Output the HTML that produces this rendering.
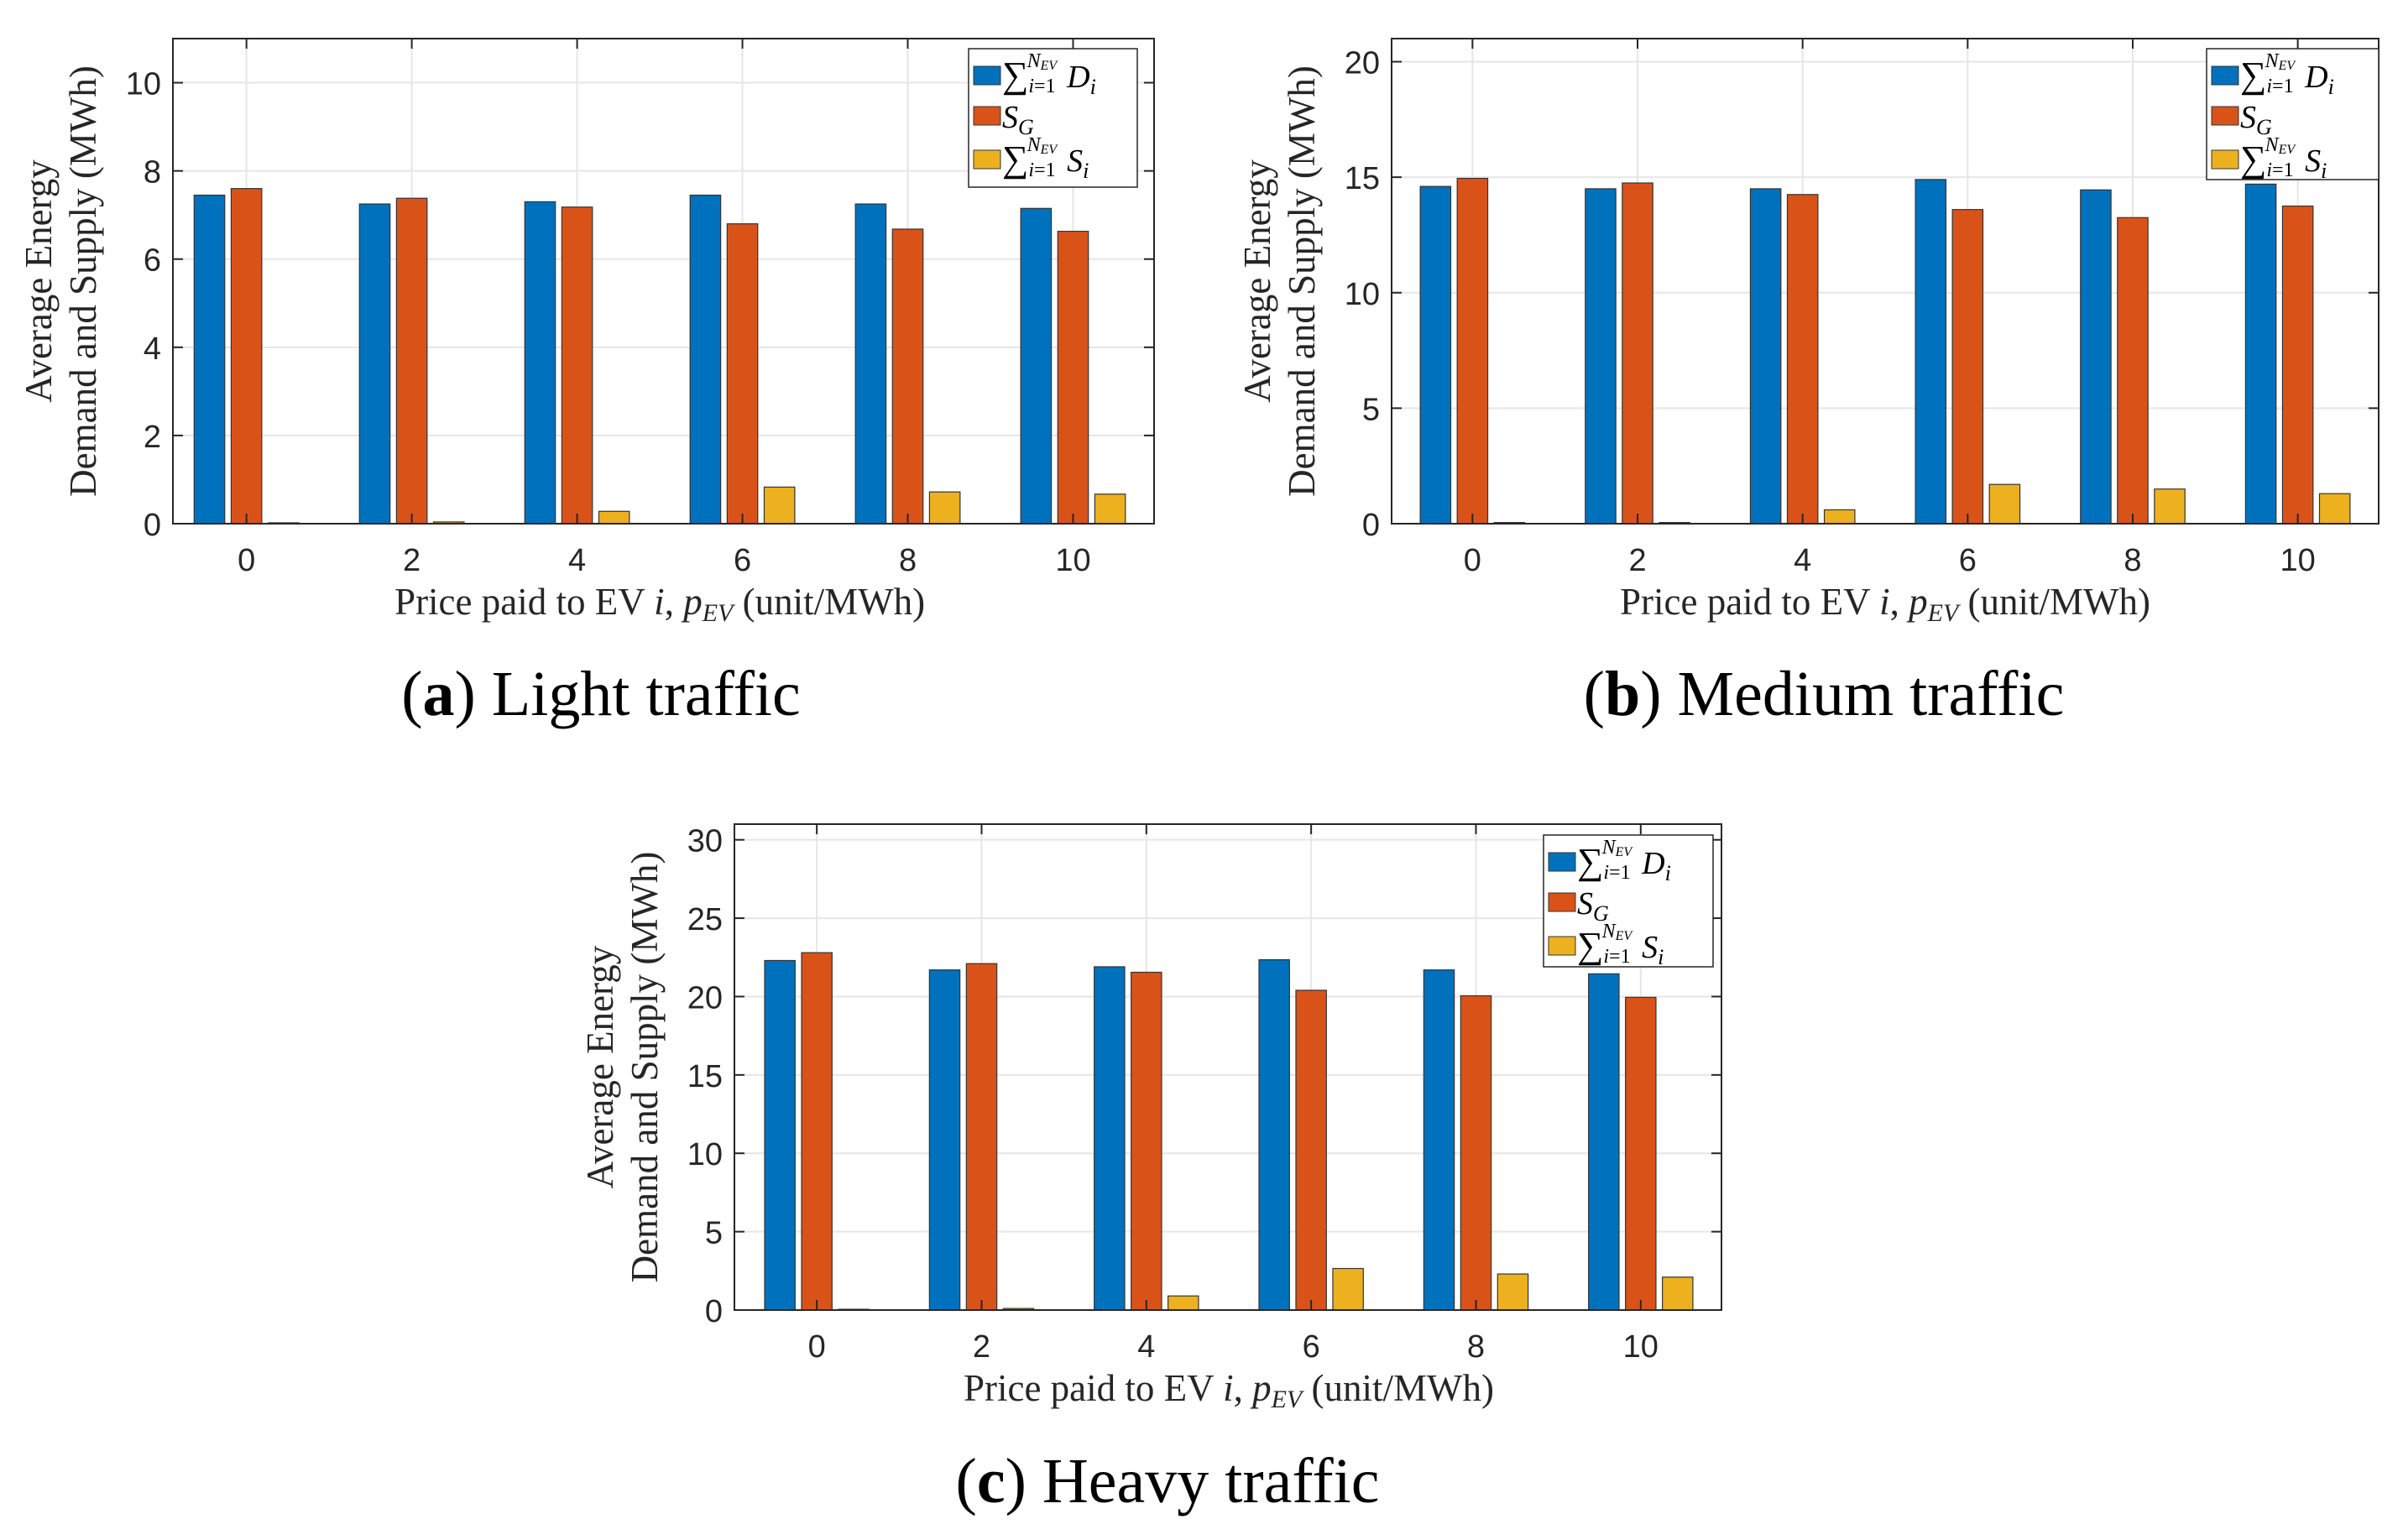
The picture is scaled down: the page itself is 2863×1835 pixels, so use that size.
<!DOCTYPE html>
<html><head><meta charset="utf-8"><style>
body{margin:0;background:#fff;}
svg{display:block;}
.tick{font-family:"Liberation Sans",sans-serif;font-size:38px;fill:#262626;}
.lab{font-family:"Liberation Serif",serif;font-size:45px;fill:#262626;}
.cap{font-family:"Liberation Serif",serif;font-size:76px;fill:#000;}
.leg{font-family:"Liberation Serif",serif;font-size:38px;font-style:italic;fill:#000;}
</style></head><body>
<svg id="chart" width="2863" height="1835" viewBox="0 0 2863 1835" xmlns="http://www.w3.org/2000/svg"></svg>
<script>
const categories = [0, 2, 4, 6, 8, 10];
const lightDemand = [7.45, 7.25, 7.3, 7.45, 7.25, 7.15];
const lightGrid = [7.6, 7.38, 7.18, 6.8, 6.68, 6.63];
const lightEV = [0.02, 0.04, 0.28, 0.83, 0.72, 0.67];
const lightTicks = [0, 2, 4, 6, 8, 10];
const mediumDemand = [14.6, 14.5, 14.5, 14.9, 14.45, 14.7];
const mediumGrid = [14.95, 14.75, 14.25, 13.6, 13.25, 13.75];
const mediumEV = [0.05, 0.05, 0.6, 1.7, 1.5, 1.3];
const mediumTicks = [0, 5, 10, 15, 20];
const heavyDemand = [22.3, 21.7, 21.9, 22.35, 21.7, 21.45];
const heavyGrid = [22.8, 22.1, 21.55, 20.4, 20.05, 19.95];
const heavyEV = [0.05, 0.1, 0.9, 2.65, 2.3, 2.1];
const heavyTicks = [0, 5, 10, 15, 20, 25, 30];

const NS = "http://www.w3.org/2000/svg";
const svg = document.getElementById('chart');
function el(tag, attrs, parent, text) {
  const e = document.createElementNS(NS, tag);
  for (const k in attrs) e.setAttribute(k, attrs[k]);
  if (text !== undefined) e.textContent = text;
  (parent || svg).appendChild(e);
  return e;
}
const colors = ['#0072BD', '#D95319', '#EDB120'];

function panel(p) {
  const g = el('g', {});
  
  
  const x = v => p.left + (v - p.xmin) / (p.xmax - p.xmin) * (p.right - p.left);
  const y = v => p.bottom - v / p.ymax * (p.bottom - p.top);
  el('rect', {x: p.left, y: p.top, width: p.right - p.left, height: p.bottom - p.top, fill: '#fff'}, g);
  p.ticks.forEach(t => {
    const gl = el('line', {x1: p.left, x2: p.right, y1: y(t), y2: y(t), stroke: '#e6e6e6', 'stroke-width': 2}, g);
    
    
  });
  categories.forEach(c => {
    el('line', {x1: x(c), x2: x(c), y1: p.top, y2: p.bottom, stroke: '#e6e6e6', 'stroke-width': 2}, g);
  });
  const series = [p.d, p.g, p.s];
  const names = ['bar-demand', 'bar-grid-supply', 'bar-ev-supply'];
  const off = 0.448, bw = 0.37;
  series.forEach((arr, si) => {
    arr.forEach((v, i) => {
      const cx = categories[i] + (si - 1) * off;
      const b = el('rect', {x: x(cx - bw / 2), y: y(v), width: x(cx + bw / 2) - x(cx - bw / 2), height: y(0) - y(v), fill: colors[si], stroke: '#333', 'stroke-width': 1.2}, g);
      
      
    });
  });
  el('rect', {x: p.left, y: p.top, width: p.right - p.left, height: p.bottom - p.top, fill: 'none', stroke: '#262626', 'stroke-width': 2}, g);
  p.ticks.forEach(t => {
    el('line', {x1: p.left, x2: p.left + 12, y1: y(t), y2: y(t), stroke: '#262626', 'stroke-width': 2}, g);
    el('line', {x1: p.right, x2: p.right - 12, y1: y(t), y2: y(t), stroke: '#262626', 'stroke-width': 2}, g);
    const tl = el('text', {x: p.left - 14, y: y(t) + 14, 'text-anchor': 'end', class: 'tick'}, g, t);
    
    
  });
  categories.forEach(c => {
    el('line', {x1: x(c), x2: x(c), y1: p.bottom, y2: p.bottom - 12, stroke: '#262626', 'stroke-width': 2}, g);
    el('line', {x1: x(c), x2: x(c), y1: p.top, y2: p.top + 12, stroke: '#262626', 'stroke-width': 2}, g);
    const tl = el('text', {x: x(c), y: p.bottom + 56, 'text-anchor': 'middle', class: 'tick'}, g, c);
    
    
  });
  const xl = el('text', {x: (x(0) + x(10)) / 2, y: p.bottom + 108, 'text-anchor': 'middle', class: 'lab'}, g);
  
  
  xl.innerHTML = 'Price paid to EV <tspan font-style="italic">i</tspan>, <tspan font-style="italic">p</tspan><tspan font-style="italic" font-size="30" dy="8">EV</tspan><tspan dy="-8"> (unit/MWh)</tspan>';
  const cy = (p.top + p.bottom) / 2;
  const yl = el('text', {transform: `translate(${p.left - 145},${cy}) rotate(-90)`, 'text-anchor': 'middle', class: 'lab'}, g, 'Average Energy');
  
  
  const yl2 = el('text', {transform: `translate(${p.left - 92},${cy}) rotate(-90)`, 'text-anchor': 'middle', class: 'lab'}, g, 'Demand and Supply (MWh)');
  
  
  const L = p.leg;
  const lg = el('g', {}, g);
  
  
  el('rect', {x: L.x, y: L.y, width: L.w, height: L.h, fill: '#fff', stroke: '#262626', 'stroke-width': 1.5}, lg);
  const rows = [L.y + 34, L.y + 82, L.y + 134];
  rows.forEach((ry, i) => {
    const sw = el('rect', {x: L.x + 6, y: ry - 13, width: 32, height: 22, fill: colors[i], stroke: '#333', 'stroke-width': 1}, lg);
    
    
    const t = el('text', {x: L.x + 40, y: ry + 12, class: 'leg'}, lg);
    
    
    if (i === 1) t.innerHTML = 'S<tspan font-size="26" dy="8">G</tspan>';
    else t.innerHTML = '<tspan font-style="normal" font-size="44">∑</tspan><tspan font-size="24" dy="6">i</tspan><tspan font-size="24" font-style="normal">=1</tspan><tspan font-size="24" dx="-34" dy="-30">N</tspan><tspan font-size="16" dy="3">EV</tspan><tspan dx="12" dy="21">' + (i === 0 ? 'D' : 'S') + '</tspan><tspan font-size="26" dy="8">i</tspan>';
  });
  const cp = el('text', {x: p.capX, y: p.capY, 'text-anchor': 'middle', class: 'cap'}, g);
  
  
  cp.innerHTML = '(<tspan font-weight="bold">' + p.letter + '</tspan>) ' + p.caption;
}

panel({name: 'panel-light-traffic', left: 206, right: 1375, top: 46, bottom: 624, xmin: -0.89, xmax: 10.98, ymax: 11,
  d: lightDemand, g: lightGrid, s: lightEV, ticks: lightTicks,
  leg: {x: 1154, y: 58, w: 201, h: 165}, capX: 716, capY: 852, letter: 'a', caption: 'Light traffic'});
panel({name: 'panel-medium-traffic', left: 1658, right: 2834, top: 46, bottom: 624, xmin: -0.98, xmax: 10.98, ymax: 21,
  d: mediumDemand, g: mediumGrid, s: mediumEV, ticks: mediumTicks,
  leg: {x: 2629, y: 58, w: 205, h: 156}, capX: 2173, capY: 852, letter: 'b', caption: 'Medium traffic'});
panel({name: 'panel-heavy-traffic', left: 875, right: 2051, top: 982, bottom: 1561, xmin: -1.0, xmax: 10.98, ymax: 31,
  d: heavyDemand, g: heavyGrid, s: heavyEV, ticks: heavyTicks,
  leg: {x: 1839, y: 995, w: 202, h: 157}, capX: 1391, capY: 1790, letter: 'c', caption: 'Heavy traffic'});
</script>
</body></html>
